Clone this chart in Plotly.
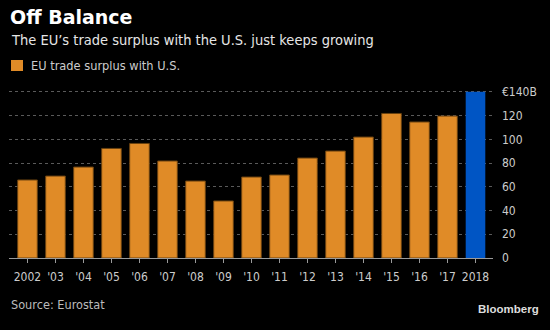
import plotly.graph_objects as go

years = ["2002", "'03", "'04", "'05", "'06", "'07", "'08", "'09", "'10",
         "'11", "'12", "'13", "'14", "'15", "'16", "'17", "2018"]
surplus = [65.8, 69.1, 76.7, 92.4, 96.6, 81.8, 64.9, 48.1, 68.3,
           70.0, 84.3, 90.2, 102.0, 121.9, 114.7, 119.7, 140.2]
y_ticks = [0, 20, 40, 60, 80, 100, 120, 140]
y_tick_labels = ["0", "20", "40", "60", "80", "100", "120", "€140B"]

W, H = 550, 330
ORANGE = "#E08B27"
BLUE = "#0055C4"
FONT = "DejaVu Sans Condensed"

def px(x):
    return x / W

def py(y):
    return 1 - y / H

PX_PER_UNIT = (258 - 92) / 140.0
YMAX = 142

fig = go.Figure()
fig.add_trace(go.Bar(
    x=years[:-1], y=surplus[:-1], name="EU trade surplus with U.S.",
    marker=dict(color=ORANGE, line=dict(color="#6a4210", width=1)),
    showlegend=False,
))
fig.add_trace(go.Bar(
    x=years[-1:], y=surplus[-1:], name="2018",
    marker=dict(color=BLUE, line=dict(width=0)),
    showlegend=False,
))

n = len(years)
fig.update_layout(
    width=W, height=H,
    margin=dict(l=0, r=0, t=0, b=0, autoexpand=False),
    paper_bgcolor="black", plot_bgcolor="black",
    barmode="overlay", bargap=0.3,
    font=dict(family=FONT, color="#cccccc", size=12),
    xaxis=dict(
        type="category", categoryorder="array", categoryarray=years,
        domain=[px(9), px(493)], range=[-0.66, n - 1 + 0.625],
        showline=True, linecolor="#9a9a9a", linewidth=1,
        ticks="outside", ticklen=4, tickcolor="#9a9a9a",
        showgrid=False, automargin=False, ticklabelstandoff=4,
        tickfont=dict(size=12, color="#cccccc"),
    ),
    yaxis=dict(
        side="right", domain=[py(258), py(258 - YMAX * PX_PER_UNIT)],
        range=[0, YMAX],
        tickvals=y_ticks, ticktext=y_tick_labels,
        showgrid=True, gridcolor="#5a5a5a", griddash="dot", gridwidth=1,
        zeroline=False, ticks="", ticklabelstandoff=8, automargin=False,
        tickfont=dict(size=12, color="#cccccc"),
    ),
)

fig.add_annotation(text="<b>Off Balance</b>", xref="paper", yref="paper",
                   x=px(8), y=py(17.5), xanchor="left", yanchor="middle",
                   showarrow=False, font=dict(size=19, color="white", family="DejaVu Sans"))
fig.add_annotation(text="The EU’s trade surplus with the U.S. just keeps growing",
                   xref="paper", yref="paper", x=px(9), y=py(40), xanchor="left",
                   yanchor="middle", showarrow=False,
                   font=dict(size=14.5, color="#e6e6e6", family=FONT))
fig.add_shape(type="rect", xref="paper", yref="paper",
              x0=px(11), x1=px(23), y0=py(71), y1=py(60),
              fillcolor=ORANGE, line=dict(width=0))
fig.add_annotation(text="EU trade surplus with U.S.", xref="paper", yref="paper",
                   x=px(29), y=py(65.5), xanchor="left", yanchor="middle",
                   showarrow=False, font=dict(size=12.7, color="#cccccc", family=FONT))
fig.add_annotation(text="Source: Eurostat", xref="paper", yref="paper",
                   x=px(9), y=py(304), xanchor="left", yanchor="middle",
                   showarrow=False, font=dict(size=12.6, color="#bbbbbb", family=FONT))
fig.add_annotation(text="<b>Bloomberg</b>", xref="paper", yref="paper",
                   x=px(541), y=py(309), xanchor="right", yanchor="middle",
                   showarrow=False, font=dict(size=11.5, color="#dddddd", family="Liberation Sans"))

fig.write_html("out.html")
